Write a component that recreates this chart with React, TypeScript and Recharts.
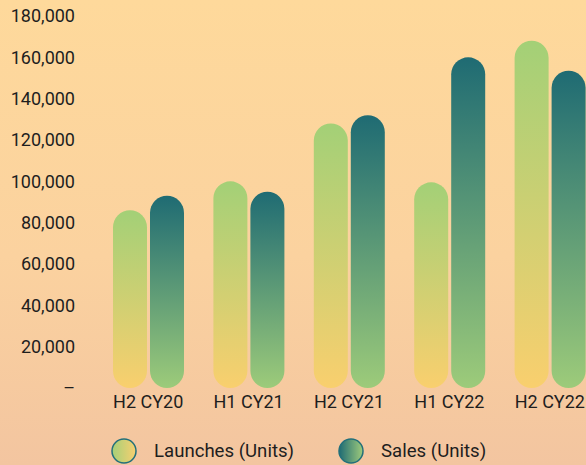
import { BarChart, Bar, XAxis, YAxis, Legend } from 'recharts';

const periods = ['H2 CY20', 'H1 CY21', 'H2 CY21', 'H1 CY22', 'H2 CY22'];
const launches = [86000, 100000, 128000, 99500, 168000];
const sales = [93000, 95000, 132000, 160000, 153500];
const yTicks = [0, 20000, 40000, 60000, 80000, 100000, 120000, 140000, 160000, 180000];

const data = periods.map((period, i) => ({
  period,
  launches: launches[i],
  sales: sales[i],
}));

const TEXT = '#1e1e1e';
const FONT = 'Roboto, sans-serif';

function LegendContent() {
  const item = (id: string, label: string, marginRight: number) => (
    <div style={{ display: 'flex', alignItems: 'center', marginRight }}>
      <svg width={28} height={28} style={{ marginRight: 16 }}>
        <circle cx={14} cy={14} r={12} fill={`url(#${id})`} stroke="#23707a" strokeWidth={1.5} />
      </svg>
      <span style={{ fontSize: 18.6, color: TEXT, fontFamily: FONT }}>{label}</span>
    </div>
  );
  return (
    <div style={{ display: 'flex', height: 28, paddingLeft: 110, paddingTop: 3, alignItems: 'center' }}>
      <svg width={0} height={0} style={{ position: 'absolute' }}>
        <defs>
          <linearGradient id="legLaunch" x1="0" y1="0" x2="1" y2="0">
            <stop offset="0%" stopColor="#a5d078" />
            <stop offset="100%" stopColor="#f8cf70" />
          </linearGradient>
          <linearGradient id="legSales" x1="0" y1="0" x2="1" y2="0">
            <stop offset="0%" stopColor="#1f6b73" />
            <stop offset="100%" stopColor="#9fcb7c" />
          </linearGradient>
        </defs>
      </svg>
      {item('legLaunch', 'Launches (Units)', 43)}
      {item('legSales', 'Sales (Units)', 0)}
    </div>
  );
}

export default function App() {
  return (
    <div
      style={{
        position: 'absolute',
        left: 0,
        top: 0,
        width: 586,
        height: 465,
        overflow: 'hidden',
        background: 'linear-gradient(180deg, #fed99b 0%, #fbd29f 55%, #f3c5a0 100%)',
        fontFamily: FONT,
      }}
    >
      <BarChart
        width={610}
        height={465}
        data={data}
        margin={{ top: 16, right: 10, bottom: 0, left: 0 }}
        barGap={3}
        barSize={34}
      >
        <defs>
          <linearGradient id="gLaunch" x1="0" y1="0" x2="0" y2="1">
            <stop offset="0%" stopColor="#a3d077" />
            <stop offset="100%" stopColor="#f9cf6e" />
          </linearGradient>
          <linearGradient id="gSales" x1="0" y1="0" x2="0" y2="1">
            <stop offset="0%" stopColor="#1f6b73" />
            <stop offset="100%" stopColor="#9dcb7a" />
          </linearGradient>
        </defs>
        <XAxis
          dataKey="period"
          axisLine={false}
          tickLine={false}
          tickSize={0}
          tickMargin={7}
          height={46}
          tick={{ fill: TEXT, fontSize: 18, fontFamily: FONT }}
        />
        <YAxis
          domain={[0, 180000]}
          ticks={yTicks}
          axisLine={false}
          tickLine={false}
          tickSize={0}
          tickMargin={23}
          width={98}
          tick={{ fill: TEXT, fontSize: 18, fontFamily: FONT }}
          tickFormatter={(v: number) => (v === 0 ? '–' : v.toLocaleString('en-US'))}
        />
        <Legend verticalAlign="bottom" content={() => <LegendContent />} />
        <Bar dataKey="launches" name="Launches (Units)" fill="url(#gLaunch)" radius={[17, 17, 17, 17]} isAnimationActive={false} />
        <Bar dataKey="sales" name="Sales (Units)" fill="url(#gSales)" radius={[17, 17, 17, 17]} isAnimationActive={false} />
      </BarChart>
    </div>
  );
}
